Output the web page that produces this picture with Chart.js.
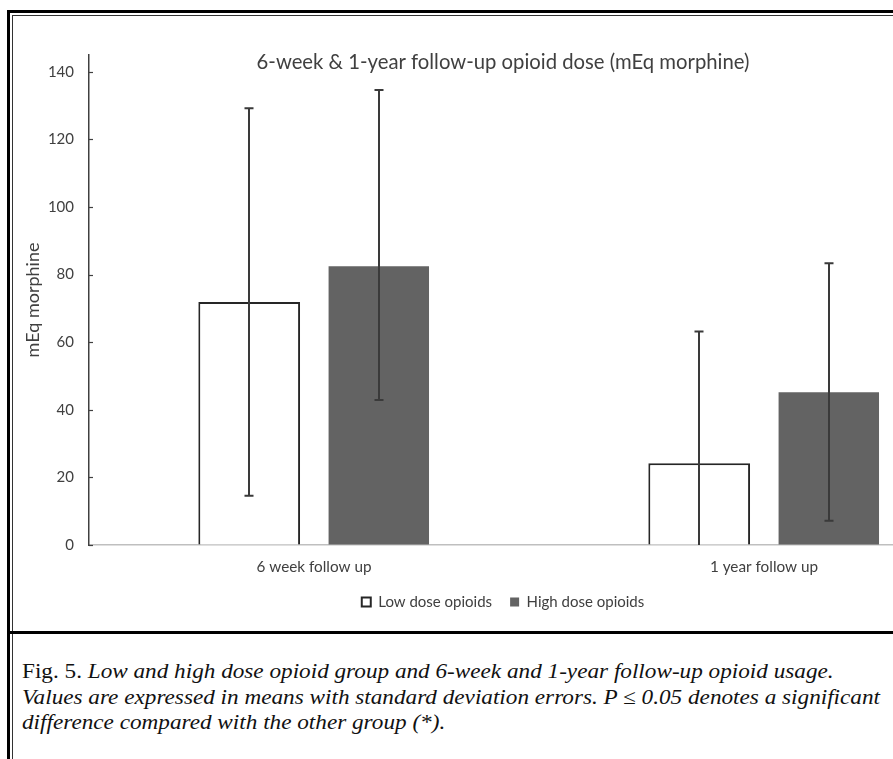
<!DOCTYPE html>
<html><head><meta charset="utf-8">
<script src="https://cdn.jsdelivr.net/npm/chart.js@4"></script>
<style>
html,body{margin:0;padding:0;width:893px;height:759px;overflow:hidden;background:#fff;}
#wrap{position:absolute;left:17px;top:16px;width:980px;height:614px;}
.ln{position:absolute;background:#000;}
#cap{position:absolute;left:22px;top:659px;font-family:"Liberation Serif",serif;font-size:21px;line-height:25.5px;color:#111;white-space:nowrap;transform-origin:0 0;}
#cap i{font-style:italic;font-family:"Liberation Serif",serif;}
#cap div{display:block;}
</style></head><body>
<div class="ln" style="left:7px;top:10px;width:900px;height:3px"></div>
<div class="ln" style="left:7px;top:10px;width:3px;height:760px"></div>
<div class="ln" style="left:12px;top:15px;width:900px;height:1px;background:#333"></div>
<div class="ln" style="left:12px;top:15px;width:1px;height:760px;background:#333"></div>
<div class="ln" style="left:10px;top:631px;width:900px;height:3px"></div>
<div id="wrap"><canvas id="c" width="980" height="614"></canvas></div>
<div id="cap"><div id="l1">Fig. 5. <i>Low and high dose opioid group and 6-week and 1-year follow-up opioid usage.</i></div><div id="l2"><i>Values are expressed in means with standard deviation errors. P ≤ 0.05 denotes a significant</i></div><div id="l3"><i>difference compared with the other group (*).</i></div></div>
<script>
const categories = ['6 week follow up', '1 year follow up'];
const lowDose = [71.9, 24.2];
const highDose = [82.5, 45.2];
const lowUpper = [129.2, 63.2];
const lowLower = [14.6, -14.8];
const highUpper = [134.6, 83.4];
const highLower = [42.9, 7.2];
const yTickValues = [0, 20, 40, 60, 80, 100, 120, 140];
const yMax = 145;

const errorBarPlugin = {
  id: 'errbars',
  afterDatasetsDraw(chart) {
    const {ctx, chartArea, scales: {y}} = chart;
    const bounds = [[lowUpper, lowLower], [highUpper, highLower]];
    ctx.save();
    ctx.beginPath();
    ctx.rect(chartArea.left, chartArea.top - 5, chartArea.width, chartArea.height + 5);
    ctx.clip();
    ctx.strokeStyle = '#3a3a3a';
    ctx.lineWidth = 2;
    chart.data.datasets.forEach((ds, i) => {
      const meta = chart.getDatasetMeta(i);
      meta.data.forEach((bar, j) => {
        const x = Math.round(bar.x);
        const yt = y.getPixelForValue(bounds[i][0][j]);
        const yb = y.getPixelForValue(bounds[i][1][j]);
        ctx.beginPath();
        ctx.moveTo(x, yt); ctx.lineTo(x, yb);
        ctx.moveTo(x - 4.5, yt); ctx.lineTo(x + 4.5, yt);
        ctx.moveTo(x - 4.5, yb); ctx.lineTo(x + 4.5, yb);
        ctx.stroke();
      });
    });
    ctx.restore();
  }
};

const tickMarkPlugin = {
  id: 'tickmarks',
  afterDraw(chart) {
    const {ctx, chartArea, scales: {y}} = chart;
    ctx.save();
    ctx.strokeStyle = '#404040';
    ctx.lineWidth = 1.2;
    y.ticks.forEach(t => {
      const py = Math.round(y.getPixelForValue(t.value)) + 0.5;
      ctx.beginPath();
      ctx.moveTo(chartArea.left, py);
      ctx.lineTo(chartArea.left + 4, py);
      ctx.stroke();
    });
    ctx.restore();
  }
};

const FONT = 'Lato';
new Chart(document.getElementById('c'), {
  type: 'bar',
  data: {
    labels: categories,
    datasets: [
      {label: 'Low dose opioids', data: lowDose, backgroundColor: '#ffffff', borderColor: '#262626', borderWidth: 2,
       categoryPercentage: 0.576, barPercentage: 0.785},
      {label: 'High dose opioids', data: highDose, backgroundColor: '#636363', borderColor: '#636363', borderWidth: 0,
       categoryPercentage: 0.576, barPercentage: 0.775}
    ]
  },
  options: {
    responsive: false,
    animation: false,
    devicePixelRatio: 1,
    layout: {padding: {left: 0, right: 8, top: 0, bottom: 10.5}},
    plugins: {
      title: {display: true, text: '6-week & 1-year follow-up opioid dose (mEq morphine)', color: '#404040',
        font: {family: FONT, size: 20.3, weight: 'normal', lineHeight: 1.2}, padding: {top: 33.8, bottom: -19.2}},
      legend: {position: 'bottom', labels: {boxWidth: 9, boxHeight: 9, padding: 18, color: '#404040',
        font: {family: FONT, size: 15}}},
      tooltip: {enabled: false}
    },
    scales: {
      x: {
        afterFit: s => { s.height = 31.5; },
        grid: {display: true, drawOnChartArea: false, drawTicks: false},
        border: {display: true, color: '#bfbfbf', width: 1.5},
        ticks: {color: '#404040', font: {family: FONT, size: 15.3, lineHeight: 1}, padding: 14.4}
      },
      y: {
        min: 0, max: yMax,
        afterBuildTicks: s => { s.ticks = yTickValues.map(v => ({value: v})); },
        afterFit: s => { s.width = 72; },
        grid: {display: true, drawOnChartArea: false, drawTicks: false},
        border: {display: true, color: '#404040', width: 1.5},
        ticks: {color: '#404040', font: {family: FONT, size: 15}, padding: 15},
        title: {display: true, text: 'mEq morphine', color: '#404040', font: {family: FONT, size: 18, lineHeight: 1.2}, padding: {top: 5.2, bottom: 0}}
      }
    }
  },
  plugins: [errorBarPlugin, tickMarkPlugin]
});

const cap = document.getElementById('cap');
const l2span = document.getElementById('l2').querySelector('i').getBoundingClientRect().width;
cap.style.transform = 'scaleX(' + (858 / l2span) + ')';
</script>
</body></html>
